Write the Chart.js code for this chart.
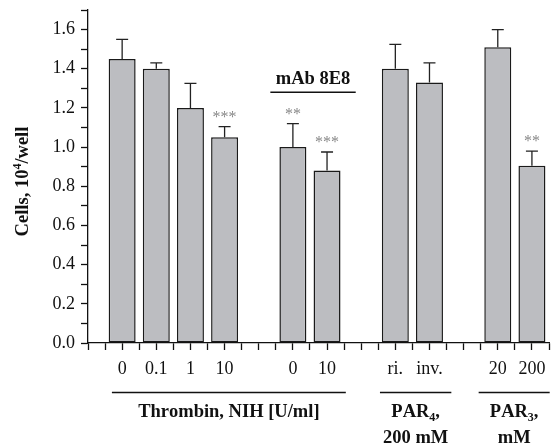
<!DOCTYPE html>
<html>
<head>
<meta charset="utf-8">
<script src="https://cdn.jsdelivr.net/npm/chart.js@4/dist/chart.umd.min.js"></script>
<style>
  html, body { margin: 0; padding: 0; background: #fff; }
  #wrap { width: 559px; height: 444px; }
</style>
</head>
<body>
<div id="wrap"><canvas id="barChart"></canvas></div>
<script>
// bar positions (in half-tick units on the x axis) and their labels
var xPos = [1, 2, 3, 4, 6, 7, 9, 10, 12, 13];
var tickLabels = ['0', '0.1', '1', '10', '0', '10', 'ri.', 'inv.', '20', '200'];
var cells = [1.45, 1.40, 1.20, 1.05, 1.00, 0.88, 1.40, 1.33, 1.51, 0.905];
var errors = [0.10, 0.03, 0.125, 0.055, 0.12, 0.095, 0.125, 0.10, 0.09, 0.075];
var stars = ['', '', '', '***', '**', '***', '', '', '', '**'];

// group captions under the axis: [from, to] in x units, lines of text (_ = subscript)
var groupSpans = [[0.7, 7.55], [8.55, 10.64], [11.44, 13.52]];
var groupText = [['Thrombin, NIH [U/ml]'], ['PAR_4,', '200 mM'], ['PAR_3,', 'mM']];
var mAbSpan = [5.34, 7.84];
var mAbText = 'mAb 8E8';
var yTitle = 'Cells, 10^4/well';

var FONT = '"Liberation Serif", "Times New Roman", serif';

function richParts(str) {
    var parts = [];
    for (var i = 0; i < str.length; i++) {
        var c = str[i];
        if ((c === '_' || c === '^') && i + 1 < str.length) {
            parts.push({ t: str[i + 1], k: c });
            i++;
        } else {
            parts.push({ t: c, k: '' });
        }
    }
    return parts;
}

function drawRich(ctx, str, cx, cy, size) {
    var parts = richParts(str);
    var big = 'bold ' + size + 'px ' + FONT;
    var small = 'bold ' + Math.round(size * 0.65) + 'px ' + FONT;
    var total = 0;
    parts.forEach(function (p) {
        ctx.font = p.k ? small : big;
        p.w = ctx.measureText(p.t).width;
        total += p.w;
    });
    var x = cx - total / 2;
    var base = cy + size * 0.33;
    ctx.textAlign = 'left';
    ctx.textBaseline = 'alphabetic';
    parts.forEach(function (p) {
        ctx.font = p.k ? small : big;
        var dy = p.k === '_' ? size * 0.22 : (p.k === '^' ? -size * 0.38 : 0);
        ctx.fillText(p.t, x, base + dy);
        x += p.w;
    });
}

var annotations = {
    id: 'annotations',
    afterDatasetsDraw: function (chart) {
        var ctx = chart.ctx;
        var xs = chart.scales.x, ys = chart.scales.y;
        var meta = chart.getDatasetMeta(0);
        ctx.save();
        // error bars (upper only)
        ctx.strokeStyle = '#222';
        ctx.lineWidth = 1.3;
        meta.data.forEach(function (bar, i) {
            var top = ys.getPixelForValue(cells[i] + errors[i]);
            ctx.beginPath();
            ctx.moveTo(bar.x, bar.y);
            ctx.lineTo(bar.x, top);
            ctx.moveTo(bar.x - 6, top);
            ctx.lineTo(bar.x + 6, top);
            ctx.stroke();
            if (stars[i]) {
                ctx.fillStyle = '#888';
                ctx.font = '16px ' + FONT;
                ctx.textAlign = 'center';
                ctx.textBaseline = 'alphabetic';
                ctx.fillText(stars[i], bar.x, top - 5);
            }
        });
        ctx.fillStyle = '#111';
        ctx.strokeStyle = '#111';
        ctx.lineWidth = 1.3;
        var bottom = chart.chartArea.bottom;
        // group captions
        groupSpans.forEach(function (s, g) {
            var a = xs.getPixelForValue(s[0]), b = xs.getPixelForValue(s[1]);
            var ly = bottom + 49.5;
            ctx.beginPath();
            ctx.moveTo(a, ly);
            ctx.lineTo(b, ly);
            ctx.stroke();
            groupText[g].forEach(function (t, j) {
                drawRich(ctx, t, (a + b) / 2, ly + 18 + j * 26, 18.5);
            });
        });
        // mAb caption
        var ma = xs.getPixelForValue(mAbSpan[0]), mb = xs.getPixelForValue(mAbSpan[1]);
        var my = ys.getPixelForValue(1.28);
        ctx.beginPath();
        ctx.moveTo(ma, my);
        ctx.lineTo(mb, my);
        ctx.stroke();
        drawRich(ctx, mAbText, (ma + mb) / 2, my - 14, 18.5);
        // y title
        var area = chart.chartArea;
        ctx.translate(22, (area.top + area.bottom) / 2 + 5);
        ctx.rotate(-Math.PI / 2);
        drawRich(ctx, yTitle, 0, 0, 18.5);
        ctx.restore();
    }
};

var ctx = document.getElementById('barChart');
var myChart = new Chart(ctx, {
    type: 'bar',
    data: {
        datasets: [{
            data: xPos.map(function (x, i) { return { x: x, y: cells[i] }; }),
            backgroundColor: '#bcbdc1',
            borderColor: '#1a1a1a',
            borderWidth: 1.5,
            borderSkipped: false,
            categoryPercentage: 1,
            barPercentage: 1.58
        }]
    },
    options: {
        responsive: true,
        maintainAspectRatio: false,
        animation: false,
        layout: { padding: { top: 10, right: 10, left: 0, bottom: 0 } },
        plugins: { legend: { display: false }, tooltip: { enabled: false } },
        scales: {
            x: {
                type: 'linear',
                min: 0,
                max: 13.5,
                offset: false,
                grid: { offset: false, drawOnChartArea: false, tickLength: 7, tickColor: '#111', tickWidth: 1.3 },
                border: { color: '#111', width: 1.3 },
                ticks: {
                    stepSize: 0.5,
                    maxTicksLimit: 100,
                    autoSkip: false,
                    maxRotation: 0,
                    minRotation: 0,
                    padding: 8,
                    color: '#111',
                    font: { family: FONT, size: 18 },
                    callback: function (v) {
                        var i = xPos.indexOf(v);
                        return i >= 0 ? tickLabels[i] : '';
                    }
                },
                afterFit: function (s) {
                    s.height = 101;
                    s.paddingLeft = 0;
                    s.paddingRight = 0;
                }
            },
            y: {
                min: 0,
                max: 1.7,
                grid: { drawOnChartArea: false, tickLength: 7, tickColor: '#111', tickWidth: 1.3 },
                border: { color: '#111', width: 1.3 },
                ticks: {
                    stepSize: 0.1,
                    maxTicksLimit: 100,
                    autoSkip: false,
                    padding: 6,
                    color: '#111',
                    font: { family: FONT, size: 18 },
                    callback: function (v) {
                        var n = Math.round(v * 10);
                        return n % 2 === 0 ? (n / 10).toFixed(1) : '';
                    }
                },
                afterFit: function (s) {
                    s.width = 88;
                    s.paddingTop = 0;
                    s.paddingBottom = 0;
                }
            }
        }
    },
    plugins: [annotations]
});
</script>
</body>
</html>
